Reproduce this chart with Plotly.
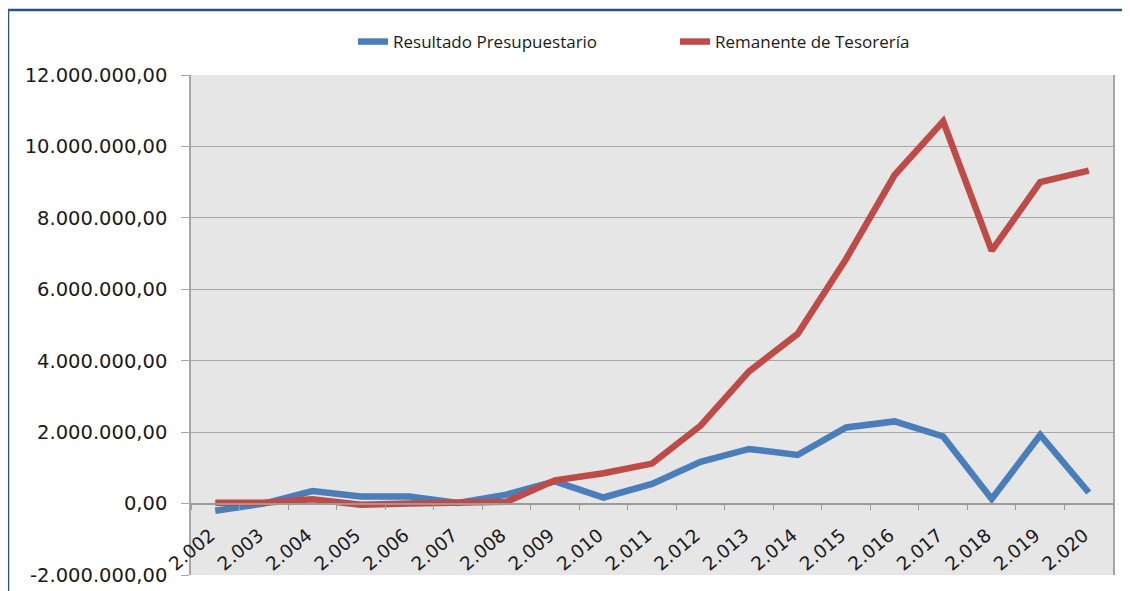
import plotly.graph_objects as go

years = ["2.002", "2.003", "2.004", "2.005", "2.006", "2.007", "2.008", "2.009", "2.010",
         "2.011", "2.012", "2.013", "2.014", "2.015", "2.016", "2.017", "2.018", "2.019", "2.020"]
resultado = [-200000, 0, 350000, 200000, 200000, 20000, 250000, 620000, 170000,
             550000, 1170000, 1530000, 1360000, 2130000, 2300000, 1880000, 130000, 1920000, 310000]
remanente = [20000, 20000, 120000, -30000, 0, 20000, 50000, 650000, 850000,
             1120000, 2180000, 3700000, 4750000, 6850000, 9200000, 10700000, 7080000, 9000000, 9320000]
y_ticks = [-2000000, 0, 2000000, 4000000, 6000000, 8000000, 10000000, 12000000]


def fmt(v):
    s = f"{abs(v):,.2f}".replace(",", "X").replace(".", ",").replace("X", ".")
    return ("-" if v < 0 else "") + s


y_text = [fmt(v) for v in y_ticks]

# page body adds an 8px offset; work in window pixels and subtract it
OFF = 8
W, H = 1130 - OFF, 591 - OFF
L, R, T, B = 191 - OFF, 17, 75 - OFF, 16
pw, ph = W - L - R, H - T - B


def px_x(x):
    return (x - OFF - L) / pw


def px_y(y):
    return (H - B - (y - OFF)) / ph


fig = go.Figure()
fig.add_trace(go.Scatter(x=years, y=resultado, mode="lines", name="Resultado Presupuestario",
                         line=dict(color="#4A7EBB", width=6.5)))
fig.add_trace(go.Scatter(x=years, y=remanente, mode="lines", name="Remanente de Tesorería",
                         line=dict(color="#BE4B48", width=6.5)))

ymin, ymax = y_ticks[0], y_ticks[-1]
zero_pos = (0 - ymin) / (ymax - ymin)

fig.update_layout(
    width=W, height=H,
    margin=dict(l=L, r=R, t=T, b=B, autoexpand=False),
    paper_bgcolor="white",
    plot_bgcolor="#E6E6E6",
    font=dict(family="DejaVu Sans", size=18, color="#1A1A1A"),
    showlegend=True,
    legend=dict(orientation="h", x=px_x(353), y=px_y(42),
                xanchor="left", yanchor="middle",
                font=dict(family="Open Sans", size=17, color="#1A1A1A"),
                entrywidth=277, bgcolor="rgba(0,0,0,0)"),
    xaxis=dict(type="category", range=[-0.5, len(years) - 0.5],
               anchor="free", position=zero_pos, automargin=False,
               tickson="boundaries", ticks="outside", ticklen=6, tickcolor="#9A9A9A",
               showline=True, linecolor="#9A9A9A", linewidth=1.5,
               tickangle=-40, showgrid=False, zeroline=False,
               ticklabelstandoff=13, ticklabelshift=-5,
               tickfont=dict(family="DejaVu Sans", size=18.5, color="#1A1A1A")),
    yaxis=dict(range=[ymin, ymax], tickvals=y_ticks, ticktext=y_text, automargin=False,
               showgrid=True, gridcolor="#A6A6A6", gridwidth=1.2,
               showline=True, linecolor="#A6A6A6", linewidth=1.5, mirror=True,
               ticks="outside", ticklen=8, tickcolor="#A6A6A6",
               ticklabelstandoff=10, zeroline=False,
               tickfont=dict(family="DejaVu Sans", size=19.5, color="#1A1A1A")),
    shapes=[dict(type="rect", xref="paper", yref="paper",
                 x0=px_x(8), x1=px_x(1145),
                 y0=px_y(600), y1=px_y(10),
                 line=dict(color="#2B5288", width=2.5), fillcolor="rgba(0,0,0,0)", layer="below")],
)

fig.write_html("out.html")
